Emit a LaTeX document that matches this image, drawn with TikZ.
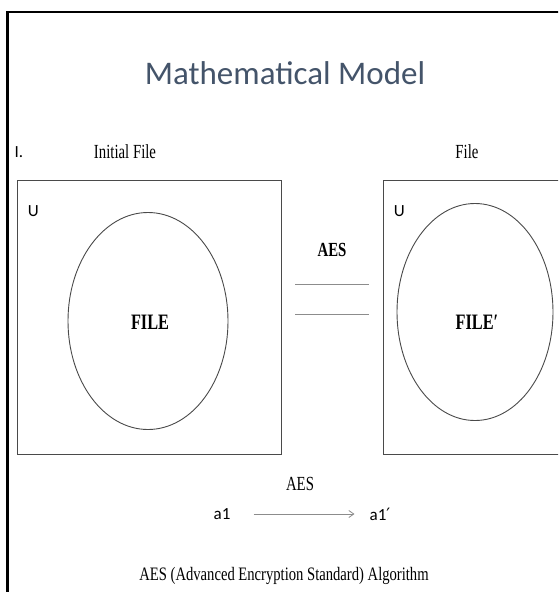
\documentclass[tikz,border=0pt]{standalone}
\usepackage{fontspec}
\setmainfont{Liberation Serif}
\newfontfamily\calibri{Carlito}
\newfontfamily\primefont{DejaVu Sans}
\usetikzlibrary{positioning,arrows.meta,shapes.geometric}
\definecolor{slate}{HTML}{44546A}
\definecolor{boxgray}{HTML}{4A4A4A}
\definecolor{linegray}{HTML}{8C8C8C}
\newcommand{\narrow}[1]{\scalebox{0.74}[1]{#1}}
\tikzset{
  setbox/.style={draw=boxgray, line width=0.9pt, minimum width=264pt, minimum height=274pt, inner sep=0pt},
  setoval/.style={ellipse, draw=boxgray, line width=0.9pt, inner sep=0pt},
  seriflabel/.style={inner sep=0pt, font=\fontsize{20}{22}\selectfont},
  sanslabel/.style={inner sep=0pt, font=\calibri\fontsize{17}{19}\selectfont},
  filelabel/.style={inner sep=0pt, font=\bfseries\fontsize{22}{24}\selectfont}
}
\begin{document}
\begin{tikzpicture}[x=1pt,y=-1pt]
\useasboundingbox (0,0) rectangle (558,592);
\clip (0,0) rectangle (558,592);
\fill[white] (0,0) rectangle (558,592);
\draw[line width=2.5pt] (7.5,600) -- (7.5,12) -- (570,12);
\node[inner sep=0pt, text=slate, font=\calibri\fontsize{33}{36}\selectfont] (title) at (285,73) {Mathematical Model};
\node[sanslabel, font=\calibri\fontsize{17}{19}\selectfont] (num) at (19,152) {I.};
\node[seriflabel] (initial) at (125,152) {\narrow{Initial File}};
\node[seriflabel] (final) at (467,152) {\narrow{File}};
\foreach \name/\bx/\ex/\ey/\rx/\txt in {A/149/148/321/160/FILE, B/515/475/312/156/FILE′} {
  \node[setbox] (univ\name) at (\bx,317) {};
  \node[sanslabel, anchor=north west] (u\name) at ([xshift=11pt,yshift=-26pt]univ\name.north west) {U};
  \node[setoval, minimum width=\rx pt, minimum height=217pt] (set\name) at (\ex,\ey) {};
  \node[filelabel] (file\name) at (\ex+2,322) {\narrow{\txt}};
}
\node[seriflabel, font=\bfseries\fontsize{20}{22}\selectfont] (aesTop) at (332,250) {\narrow{AES}};
\draw[linegray, line width=0.9pt] (295,284) -- (369,284);
\draw[linegray, line width=0.9pt] (295,314) -- (369,314);
\node[seriflabel] (aesLow) at (300,484) {\narrow{AES}};
\node[sanslabel] (a1) at (222,514) {a1};
\node[sanslabel] (a1p) at (380,514) {a1{\primefont\fontsize{17}{19}\selectfont ′}};
\draw[linegray, line width=0.8pt, -{Straight Barb[length=5pt,width=7pt]}, shorten <=23pt, shorten >=15pt] (a1) -- (a1p);
\node[seriflabel, font=\fontsize{19}{21}\selectfont] (algo) at (284,576) {\scalebox{0.77}[1]{AES (Advanced Encryption Standard) Algorithm}};
\end{tikzpicture}
\end{document}
